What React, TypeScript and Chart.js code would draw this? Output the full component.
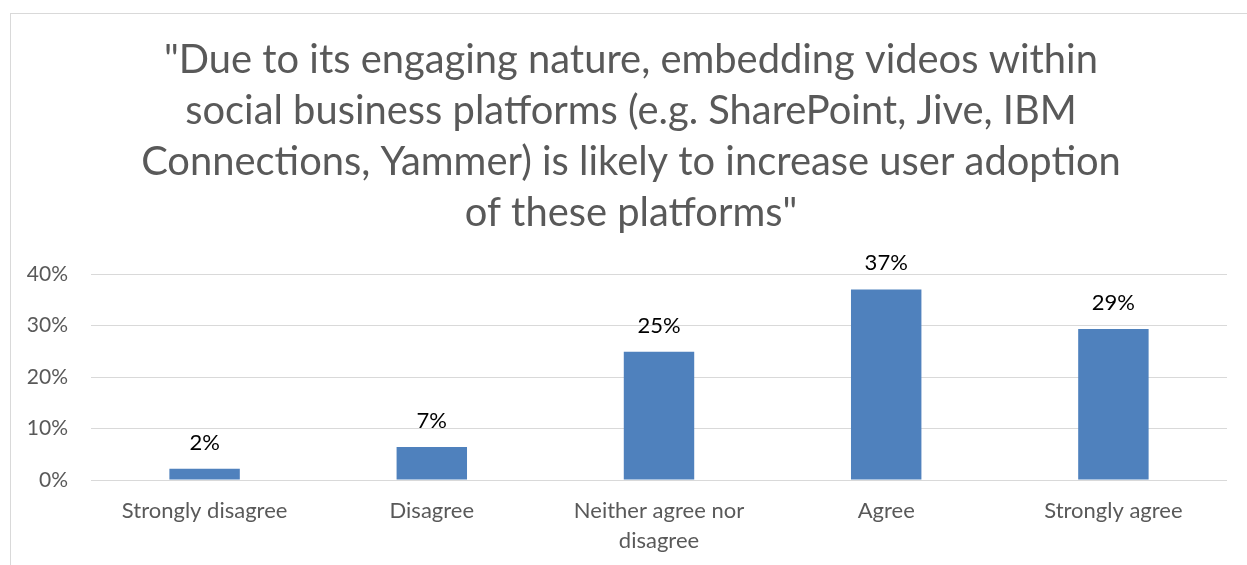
import React, { useEffect, useRef } from "react";
import { Chart, registerables } from "chart.js";

Chart.register(...registerables);

const FONT = "Lato, 'Open Sans', sans-serif";

const titleLines = [
  "\"Due to its engaging nature, embedding videos within",
  "social business platforms (e.g. SharePoint, Jive, IBM",
  "Connections, Yammer) is likely to increase user adoption",
  "of these platforms\"",
];

const categories = [
  ["Strongly disagree"],
  ["Disagree"],
  ["Neither agree nor", "disagree"],
  ["Agree"],
  ["Strongly agree"],
];

const values = [2.2, 6.4, 24.9, 37.0, 29.3];
const valueLabels = ["2%", "7%", "25%", "37%", "29%"];

const yMin = 0;
const yMax = 40;
const yStep = 10;

const titlePlugin = {
  id: "customTitle",
  afterDraw(chart: any) {
    const ctx = chart.ctx;
    ctx.save();
    ctx.fillStyle = "#595959";
    ctx.textAlign = "center";
    ctx.textBaseline = "alphabetic";
    ctx.font = `40px ${FONT}`;
    const w = ctx.measureText(titleLines[0]).width;
    const size = (40 * 934) / w;
    ctx.font = `${size}px ${FONT}`;
    titleLines.forEach((line, i) => {
      ctx.fillText(line, 631, 73 + i * 51);
    });
    ctx.restore();
  },
};

const valueLabelPlugin = {
  id: "valueLabels",
  afterDatasetsDraw(chart: any) {
    const ctx = chart.ctx;
    const meta = chart.getDatasetMeta(0);
    ctx.save();
    ctx.fillStyle = "#000000";
    ctx.textAlign = "center";
    ctx.textBaseline = "alphabetic";
    ctx.font = `22px ${FONT}`;
    meta.data.forEach((bar: any, i: number) => {
      ctx.fillText(valueLabels[i], bar.x, bar.y - 19);
    });
    ctx.restore();
  },
};

export default function App() {
  const ref = useRef<HTMLCanvasElement>(null);

  useEffect(() => {
    if (!ref.current) return;
    const chart = new Chart(ref.current, {
      type: "bar",
      data: {
        labels: categories,
        datasets: [
          {
            data: values,
            backgroundColor: "#4F81BD",
            borderWidth: 0,
            categoryPercentage: 1,
            barPercentage: 0.31,
          },
        ],
      },
      options: {
        animation: false,
        responsive: false,
        layout: { padding: { top: 274, right: 20, left: 0, bottom: 0 } },
        plugins: {
          legend: { display: false },
          title: { display: false },
          tooltip: { enabled: false },
        },
        scales: {
          x: {
            grid: { display: false, drawTicks: false },
            border: { display: false },
            ticks: {
              color: "#595959",
              font: { family: FONT, size: 22, lineHeight: 1.35 },
              padding: 16,
              maxRotation: 0,
              autoSkip: false,
            },
            afterFit(scale: any) {
              scale.height = 85;
            },
          },
          y: {
            min: yMin,
            max: yMax,
            grid: { color: "#D9D9D9", lineWidth: 1, drawTicks: false },
            border: { display: false },
            ticks: {
              stepSize: yStep,
              color: "#595959",
              font: { family: FONT, size: 21 },
              padding: 23,
              callback: (v: any) => `${v}%`,
            },
            afterFit(scale: any) {
              scale.width = 91;
            },
          },
        },
      },
      plugins: [titlePlugin, valueLabelPlugin],
    });
    return () => chart.destroy();
  }, []);

  return (
    <div
      style={{
        position: "fixed",
        left: 0,
        top: 0,
        width: 1247,
        height: 565,
        overflow: "hidden",
        background: "#ffffff",
      }}
    >
      <div
        style={{
          position: "absolute",
          left: 10,
          top: 13,
          width: 1400,
          height: 700,
          borderLeft: "1px solid #D9D9D9",
          borderTop: "1px solid #D9D9D9",
        }}
      />
      <canvas
        ref={ref}
        width={1247}
        height={565}
        style={{ position: "absolute", left: 0, top: 0, width: 1247, height: 565 }}
      />
    </div>
  );
}
